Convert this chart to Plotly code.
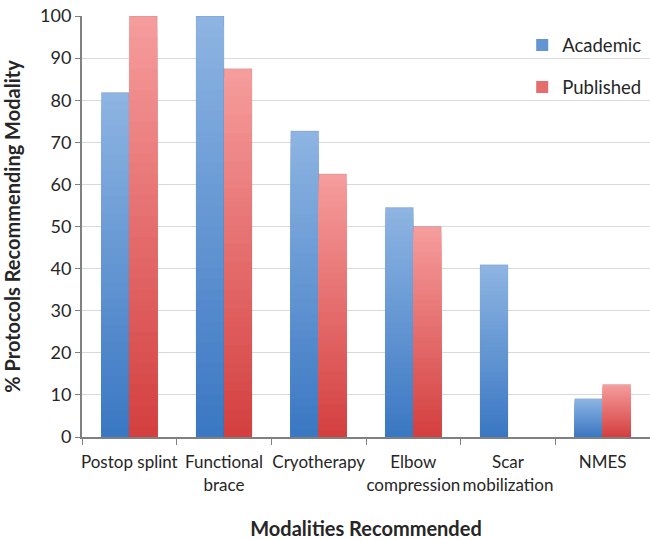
import plotly.graph_objects as go

# Data
categories = ["Postop splint", "Functional brace", "Cryotherapy",
              "Elbow compression", "Scar mobilization", "NMES"]
tick_labels = ["Postop splint", "Functional<br>brace", "Cryotherapy",
               "Elbow<br>compression", "Scar<br>mobilization", "NMES"]
academic = [81.8, 100, 72.7, 54.5, 40.9, 9.1]
published = [100, 87.5, 62.5, 50, 0, 12.5]

FONT = "Lato"
TEXT = "#262626"

# Gradient end colours (top, bottom) for each series
series = [
    ("Academic", academic, "A", (0x8D, 0xB4, 0xE2), (0x3B, 0x78, 0xC3)),
    ("Published", published, "P", (0xF6, 0x9C, 0x9C), (0xD4, 0x40, 0x40)),
]
N_LAYERS = 40


def mix(c1, c2, t):
    return "rgb(%d,%d,%d)" % tuple(round(a + (b - a) * t) for a, b in zip(c1, c2))


fig = go.Figure()
for name, vals, group, top, bottom in series:
    # in-place layers: full-height light bar first, shorter darker ones on top,
    # giving each bar a light-to-dark vertical gradient
    for k in range(N_LAYERS):
        frac = (N_LAYERS - k) / N_LAYERS
        t = k / (N_LAYERS - 1)
        show = k == N_LAYERS // 2
        edge = [1 if (k == 0 and v > 0) else 0 for v in vals]
        fig.add_trace(go.Bar(
            x=categories,
            y=[v * frac for v in vals],
            name=name,
            offsetgroup=group,
            legendgroup=group,
            showlegend=show,
            marker=dict(
                color=mix(top, bottom, t),
                line=dict(width=edge, color="rgba(0,0,0,0.10)"),
            ),
            hoverinfo="skip",
        ))

fig.update_layout(
    width=650, height=540,
    barmode="group",
    bargap=0.41,
    bargroupgap=0,
    plot_bgcolor="white",
    paper_bgcolor="white",
    margin=dict(l=82, r=0, t=16, b=103),
    font=dict(family=FONT, size=17, color=TEXT),
    legend=dict(
        x=0.775, y=0.975, xanchor="left", yanchor="top",
        font=dict(size=18.5, color=TEXT),
        tracegroupgap=15,
        bgcolor="rgba(0,0,0,0)",
        traceorder="grouped",
    ),
    xaxis=dict(
        tickmode="array",
        tickvals=categories,
        ticktext=tick_labels,
        tickangle=0,
        tickson="boundaries",
        ticks="outside",
        ticklen=6,
        tickcolor="#808080",
        ticklabelstandoff=9,
        showline=True,
        linecolor="#808080",
        linewidth=2,
        showgrid=False,
        automargin=False,
        tickfont=dict(size=17, color=TEXT),
        title=dict(text="<b>Modalities Recommended</b>", font=dict(size=20, color=TEXT),
                   standoff=39),
    ),
    yaxis=dict(
        range=[0, 100],
        dtick=10,
        ticks="outside",
        ticklen=5,
        tickcolor="#808080",
        showline=True,
        linecolor="#808080",
        linewidth=2,
        showgrid=True,
        gridcolor="#D9D9D9",
        gridwidth=1,
        zeroline=False,
        automargin=False,
        tickfont=dict(size=18, color=TEXT),
        title=dict(text="<b>% Protocols Recommending Modality</b>", font=dict(size=20, color=TEXT),
                   standoff=14),
    ),
)

fig.write_html("out.html")
